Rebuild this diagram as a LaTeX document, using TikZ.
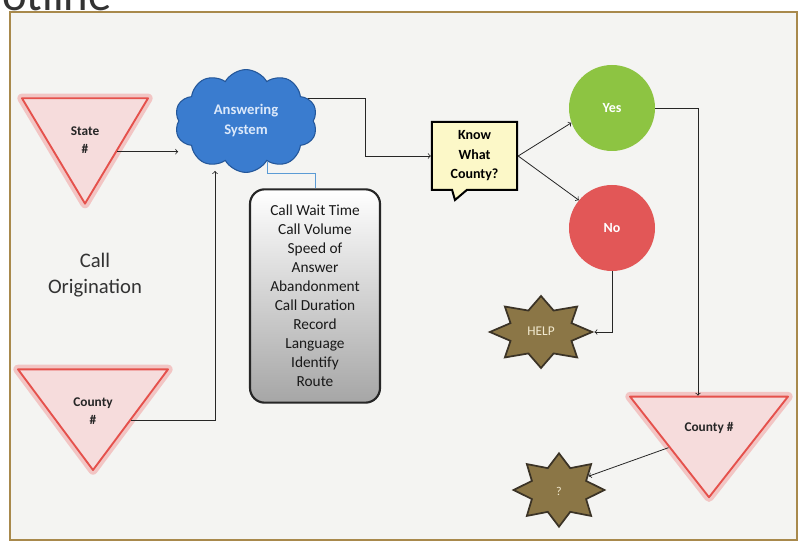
\documentclass[tikz,border=0pt]{standalone}
\usepackage{fontspec}
\setmainfont{Carlito}
\usetikzlibrary{shapes.geometric,shapes.symbols,shapes.callouts,calc}

\definecolor{framebrown}{HTML}{A8894C}
\definecolor{paper}{HTML}{F4F4F2}
\definecolor{glow}{HTML}{F07070}
\definecolor{trired}{HTML}{E5514C}
\definecolor{trifill}{HTML}{F6DCDC}
\definecolor{cloudblue}{HTML}{3A7CCF}
\definecolor{clouddark}{HTML}{24579A}
\definecolor{cloudtext}{HTML}{DCE9FA}
\definecolor{yesgreen}{HTML}{8DC442}
\definecolor{nored}{HTML}{E25757}
\definecolor{starfill}{HTML}{8B7646}
\definecolor{stardark}{HTML}{3B3326}
\definecolor{startext}{HTML}{F2EAD0}
\definecolor{noteyellow}{HTML}{FCF8C8}
\definecolor{infoblue}{HTML}{5B9BD5}

\begin{document}
\begin{tikzpicture}[x=0.75pt,y=-0.75pt,
    tri/.style={isosceles triangle, isosceles triangle stretches, shape border rotate=-90,
      fill=trifill, draw=trired, line width=1.4pt, line join=round, inner sep=0pt,
      preaction={draw=glow, line width=7pt, opacity=.35, line join=round}},
    lbl/.style={font=\bfseries\fontsize{10}{13}\selectfont, align=center, text=black!85},
    answer/.style={circle, minimum size=64.5pt, text=white, font=\bfseries\fontsize{10.5}{13}\selectfont},
    burst/.style={star, star points=8, star point ratio=1.55, fill=starfill, draw=stardark,
      line width=1.3pt, inner sep=0pt, transform shape},
    link/.style={->, line width=0.6pt, black!85},
    info/.style={line width=0.6pt, infoblue}]
  \useasboundingbox (0,0) rectangle (799,548);
  \fill[white] (0,0) rectangle (799,548);
  \fill[paper] (10,12) rectangle (797,540);
  \draw[framebrown, line width=1.6pt] (10,12) rectangle (797,540);
  \begin{scope}
    \clip (0,0) rectangle (799,548);
    \node (Title) at (112,11)[anchor=base east, inner sep=0pt, text=black!80, font=\fontsize{35}{40}\selectfont]{Hotline};
  \end{scope}

  \node (State) at (85,134)[tri, minimum width=94.5pt, minimum height=79pt]{};
  \node (StateTxt) at (85,140)[lbl]{State\\\#};
  \node (CountyL) at (93,407)[tri, minimum width=112.5pt, minimum height=75.5pt]{};
  \node (CountyLTxt) at (93,411)[lbl]{County\\\#};
  \node (CountyR) at (709,435)[tri, minimum width=118.5pt, minimum height=75.5pt]{};
  \node (CountyRTxt) at (709,428)[lbl]{County \#};
  \node (Orig) at (95,275)[align=center, text=black!80, font=\fontsize{15.5}{19.5}\selectfont]{Call\\Origination};

  \node (Cloud) at (246,121)[cloud, cloud puffs=10, cloud puff arc=120, minimum width=107pt, minimum height=70pt,
    fill=cloudblue, draw=clouddark, line width=0.8pt, inner sep=0pt, align=center,
    text=cloudtext, font=\bfseries\fontsize{11}{15}\selectfont]{Answering\\System};
  \node (Metrics) at (315,296)[rounded corners=11pt, draw=black!85, line width=1.6pt, top color=white, bottom color=black!35,
    minimum width=97.5pt, minimum height=160pt, align=center, text=black!90,
    font=\fontsize{11.5}{14.25}\selectfont]{Call Wait Time\\Call Volume\\Speed of\\Answer\\Abandonment\\Call Duration\\Record\\Language\\Identify\\Route};
  \node (Know) at (474.5,156)[rectangle callout, callout absolute pointer={(455,200)}, callout pointer width=11pt,
    fill=noteyellow, draw=black, line width=1.5pt, minimum width=64pt, minimum height=51pt, inner sep=2pt,
    align=center, font=\bfseries\fontsize{10.5}{14.6}\selectfont]{Know\\What\\County?};
  \node (Yes) at (612,108)[answer, fill=yesgreen]{Yes};
  \node (No) at (612,228)[answer, fill=nored]{No};
  \node (Help) at (541,332)[burst, minimum size=54pt, xscale=1.42]{};
  \node (HelpTxt) at (541,331)[text=startext, font=\fontsize{10}{12}\selectfont]{HELP};
  \node (Q) at (559,490)[burst, minimum size=55pt, xscale=1.24]{};
  \node (QTxt) at (559,491)[text=startext, font=\fontsize{9}{11}\selectfont]{?};

  \draw[link] (State.left side) -- (State.left side -| Cloud.west);
  \draw[link] (CountyL.left side) -| ($(Cloud.south)+(-31,-2)$);
  \draw[link] (Cloud.20) -- ++(57,0) |- (Know.west);
  \draw[info] (Cloud.-62) -- ++(0,12) -| (Metrics.north);
  \draw[link] (Know.east) -- (Yes.200);
  \draw[link] (Know.east) -- (No.140);
  \draw[link] (Yes.east) -| ($(CountyR.north)+(-11,0)$);
  \draw[link] (No.south) |- (Help.east);
  \draw[link] (CountyR.right side) -- (Q.30);
\end{tikzpicture}
\end{document}
